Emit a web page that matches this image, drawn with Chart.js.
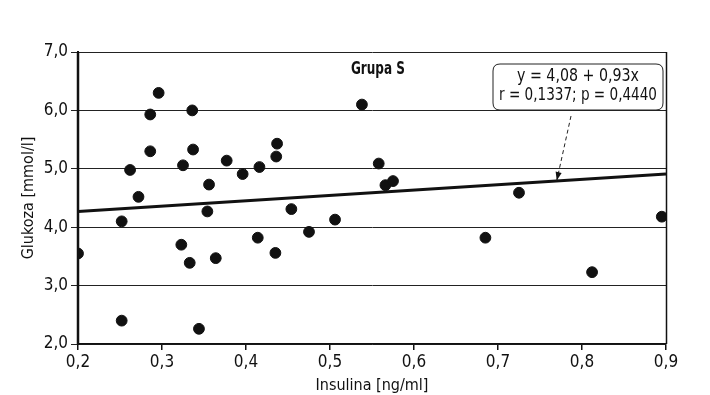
<!DOCTYPE html>
<html>
<head>
<meta charset="utf-8">
<script src="https://cdn.jsdelivr.net/npm/chart.js@4/dist/chart.umd.min.js"></script>
<style>
html,body{margin:0;padding:0;background:#fff;}
#wrap{width:710px;height:395px;position:relative;}
</style>
</head>
<body>
<div id="wrap"><canvas id="c" width="710" height="395"></canvas></div>
<script>
const insulin = [0.200,0.252,0.252,0.262,0.272,0.286,0.286,0.296,0.325,0.336,0.337,0.356,0.377,0.396,0.416,0.437,0.436,0.354,0.454,0.506,0.475,0.414,0.435,0.323,0.333,0.364,0.344,0.538,0.558,0.566,0.575,0.725,0.895,0.685,0.812];
const glucose = [3.55,4.10,2.40,4.98,4.52,5.93,5.30,6.30,5.06,6.00,5.33,4.73,5.14,4.91,5.03,5.43,5.21,4.27,4.31,4.13,3.92,3.82,3.56,3.70,3.39,3.47,2.26,6.10,5.09,4.72,4.79,4.59,4.18,3.82,3.23];
const fitX = [0.2, 0.9];
const fitY = [4.27, 4.91];
const xTicks = [0.2,0.3,0.4,0.5,0.6,0.7,0.8,0.9];
const yTicks = [2,3,4,5,6,7];
const groupTitle = 'Grupa S';
const equationLines = ['y = 4,08 + 0,93x', 'r = 0,1337; p = 0,4440'];
const arrowTarget = {x: 0.77, y: 4.80};
const xTitle = 'Insulina [ng/ml]';
const yTitle = 'Glukoza [mmol/l]';

const FONT = "'Liberation Sans Narrow','Arial Narrow','DejaVu Sans Condensed',sans-serif";
const fmt = v => v.toFixed(1).replace('.', ',');

const overlay = {
  id: 'overlay',
  afterDraw(chart) {
    const ctx = chart.ctx, a = chart.chartArea;
    const xs = chart.scales.x, ys = chart.scales.y;
    ctx.save();
    ctx.strokeStyle = '#111'; ctx.lineWidth = 1.5;
    ctx.beginPath(); ctx.moveTo(a.right + 0.5, a.top); ctx.lineTo(a.right + 0.5, a.bottom); ctx.stroke();
    ctx.lineWidth = 2.5;
    ctx.beginPath(); ctx.moveTo(a.left, a.top); ctx.lineTo(a.left, a.bottom); ctx.stroke();
    ctx.fillStyle = '#111';
    ctx.font = "bold 17px " + FONT;
    ctx.textAlign = 'center'; ctx.textBaseline = 'middle';
    ctx.fillText(groupTitle, a.left + (a.right - a.left) * 0.51, a.top + 18, 54);
    const bx = a.right - 173, by = a.top + 12, bw = 170, bh = 46, r = 7;
    ctx.fillStyle = '#fff';
    ctx.strokeStyle = '#222'; ctx.lineWidth = 1;
    ctx.beginPath();
    ctx.moveTo(bx + r, by); ctx.lineTo(bx + bw - r, by); ctx.quadraticCurveTo(bx + bw, by, bx + bw, by + r);
    ctx.lineTo(bx + bw, by + bh - r); ctx.quadraticCurveTo(bx + bw, by + bh, bx + bw - r, by + bh);
    ctx.lineTo(bx + r, by + bh); ctx.quadraticCurveTo(bx, by + bh, bx, by + bh - r);
    ctx.lineTo(bx, by + r); ctx.quadraticCurveTo(bx, by, bx + r, by);
    ctx.closePath(); ctx.fill(); ctx.stroke();
    ctx.fillStyle = '#111';
    ctx.font = "17px " + FONT;
    ctx.fillText(equationLines[0], bx + bw / 2, by + 13, 122);
    ctx.fillText(equationLines[1], bx + bw / 2, by + 32, 158);
    const sx = bx + 78, sy = by + bh + 6;
    const tx = xs.getPixelForValue(arrowTarget.x), ty = ys.getPixelForValue(arrowTarget.y);
    ctx.setLineDash([4, 3]); ctx.lineWidth = 1;
    ctx.beginPath(); ctx.moveTo(sx, sy); ctx.lineTo(tx, ty); ctx.stroke();
    ctx.setLineDash([]);
    const ang = Math.atan2(ty - sy, tx - sx);
    ctx.beginPath();
    ctx.moveTo(tx, ty);
    ctx.lineTo(tx - 9 * Math.cos(ang - 0.35), ty - 9 * Math.sin(ang - 0.35));
    ctx.lineTo(tx - 9 * Math.cos(ang + 0.35), ty - 9 * Math.sin(ang + 0.35));
    ctx.closePath(); ctx.fill();
    ctx.restore();
  }
};

new Chart(document.getElementById('c'), {
  type: 'scatter',
  data: {
    datasets: [
      {
        type: 'line',
        data: fitX.map((x, i) => ({x, y: fitY[i]})),
        borderColor: '#111', borderWidth: 3, pointRadius: 0, fill: false, order: 2
      },
      {
        data: insulin.map((x, i) => ({x, y: glucose[i]})),
        backgroundColor: '#111', borderColor: '#111', pointRadius: 5.4, pointHoverRadius: 5.4, order: 1
      }
    ]
  },
  options: {
    responsive: false, animation: false,
    layout: {padding: {left: 0, top: 52, right: 44, bottom: 0}},
    plugins: {legend: {display: false}, tooltip: {enabled: false}},
    scales: {
      x: {
        type: 'linear', min: 0.2, max: 0.9,
        afterBuildTicks: s => { s.ticks = xTicks.map(v => ({value: v})); },
        afterFit: s => { s.height = 51; },
        ticks: {callback: v => fmt(v), color: '#111', font: {family: FONT, size: 17}, padding: 2, maxRotation: 0},
        grid: {drawOnChartArea: false, drawTicks: true, tickLength: 6, color: '#111', lineWidth: 1.5},
        border: {display: true, color: '#111', width: 1.5},
        title: {display: true, text: xTitle, color: '#111', font: {family: FONT, size: 16}, padding: {top: 1, bottom: 0}}
      },
      y: {
        min: 2, max: 7,
        afterBuildTicks: s => { s.ticks = yTicks.map(v => ({value: v})); },
        afterFit: s => { s.width = 78; },
        ticks: {callback: v => fmt(v), color: '#111', font: {family: FONT, size: 17}, padding: 3},
        grid: {drawOnChartArea: true, drawTicks: true, tickLength: 7, color: '#222', lineWidth: 1},
        border: {display: true, color: '#111', width: 2},
        title: {display: true, text: yTitle, color: '#111', font: {family: FONT, size: 16}, padding: {top: 19, bottom: 0}}
      }
    }
  },
  plugins: [overlay]
});
</script>
</body>
</html>
